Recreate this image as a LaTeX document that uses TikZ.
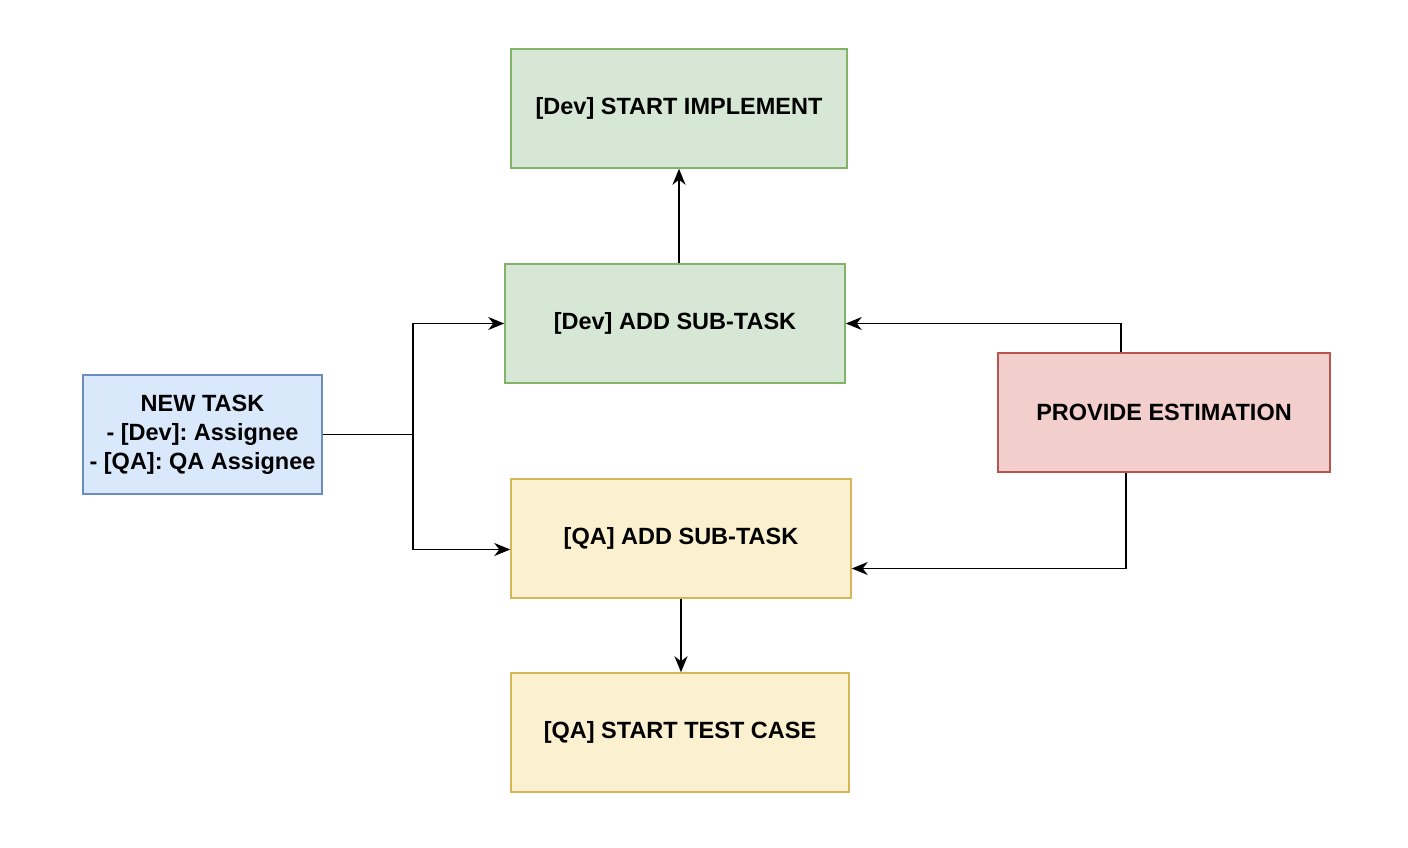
\documentclass[tikz,border=0pt]{standalone}
\usepackage{fontspec}
\setmainfont{Liberation Sans}
\usepackage{tikz}
\usetikzlibrary{arrows.meta,calc}
\usepackage{xcolor}
\definecolor{TaskBlueFill}{HTML}{DAE8FC}
\definecolor{TaskBlueLine}{HTML}{6C8EBF}
\definecolor{TaskGreenFill}{HTML}{D7E7D5}
\definecolor{TaskGreenLine}{HTML}{82B366}
\definecolor{TaskYellowFill}{HTML}{FBF1D0}
\definecolor{TaskYellowLine}{HTML}{D6B656}
\definecolor{TaskRedFill}{HTML}{F2CFCD}
\definecolor{TaskRedLine}{HTML}{B85450}
\frenchspacing

\begin{document}
\begin{tikzpicture}[x=1pt,y=-1pt,>={Stealth[length=16pt,width=13pt,inset=5pt]},
  taskbox/.style={draw,line width=1.5pt,inner sep=0pt,align=center,
    font=\fontsize{23.5}{29}\selectfont\bfseries},
  devbox/.style={taskbox,fill=TaskGreenFill,draw=TaskGreenLine},
  qabox/.style={taskbox,fill=TaskYellowFill,draw=TaskYellowLine},
  flow/.style={->,line width=1.5pt}]
  \useasboundingbox (0,0) rectangle (1408,848);
  % boxes
  \node[taskbox,fill=TaskBlueFill,draw=TaskBlueLine,minimum width=239pt,minimum height=119pt]
    (new) at (202.5,434.5) {NEW TASK\\- [Dev]: Assignee\\- [QA]: QA Assignee};
  \node[devbox,minimum width=336pt,minimum height=119pt] (devstart) at (679,108.5) {[Dev] START IMPLEMENT};
  \node[devbox,minimum width=340pt,minimum height=119pt] (devadd) at (675,323.5) {[Dev] ADD SUB-TASK};
  \node[qabox,minimum width=340pt,minimum height=119pt] (qaadd) at (681,538.5) {[QA] ADD SUB-TASK};
  \node[qabox,minimum width=338pt,minimum height=119pt] (qastart) at (680,732.5) {[QA] START TEST CASE};
  \node[taskbox,fill=TaskRedFill,draw=TaskRedLine,minimum width=332pt,minimum height=119pt]
    (est) at (1164,412.5) {PROVIDE ESTIMATION};
  % connectors
  \coordinate (split) at (413,434.5);
  \draw[line width=1.5pt] (new.east) -- (split);
  \draw[flow] (split) |- (devadd.west);
  \draw[flow] (split) |- ([yshift=-11pt]qaadd.west);
  \draw[flow] (devstart.south |- devadd.north) -- (devstart.south);
  \draw[flow] ([xshift=-43pt]est.north) |- (devadd.east);
  \draw[flow] ([xshift=-38pt]est.south) |- ([yshift=-30pt]qaadd.east);
  \draw[flow] (qaadd.south) -- (qaadd.south |- qastart.north);
\end{tikzpicture}
\end{document}
